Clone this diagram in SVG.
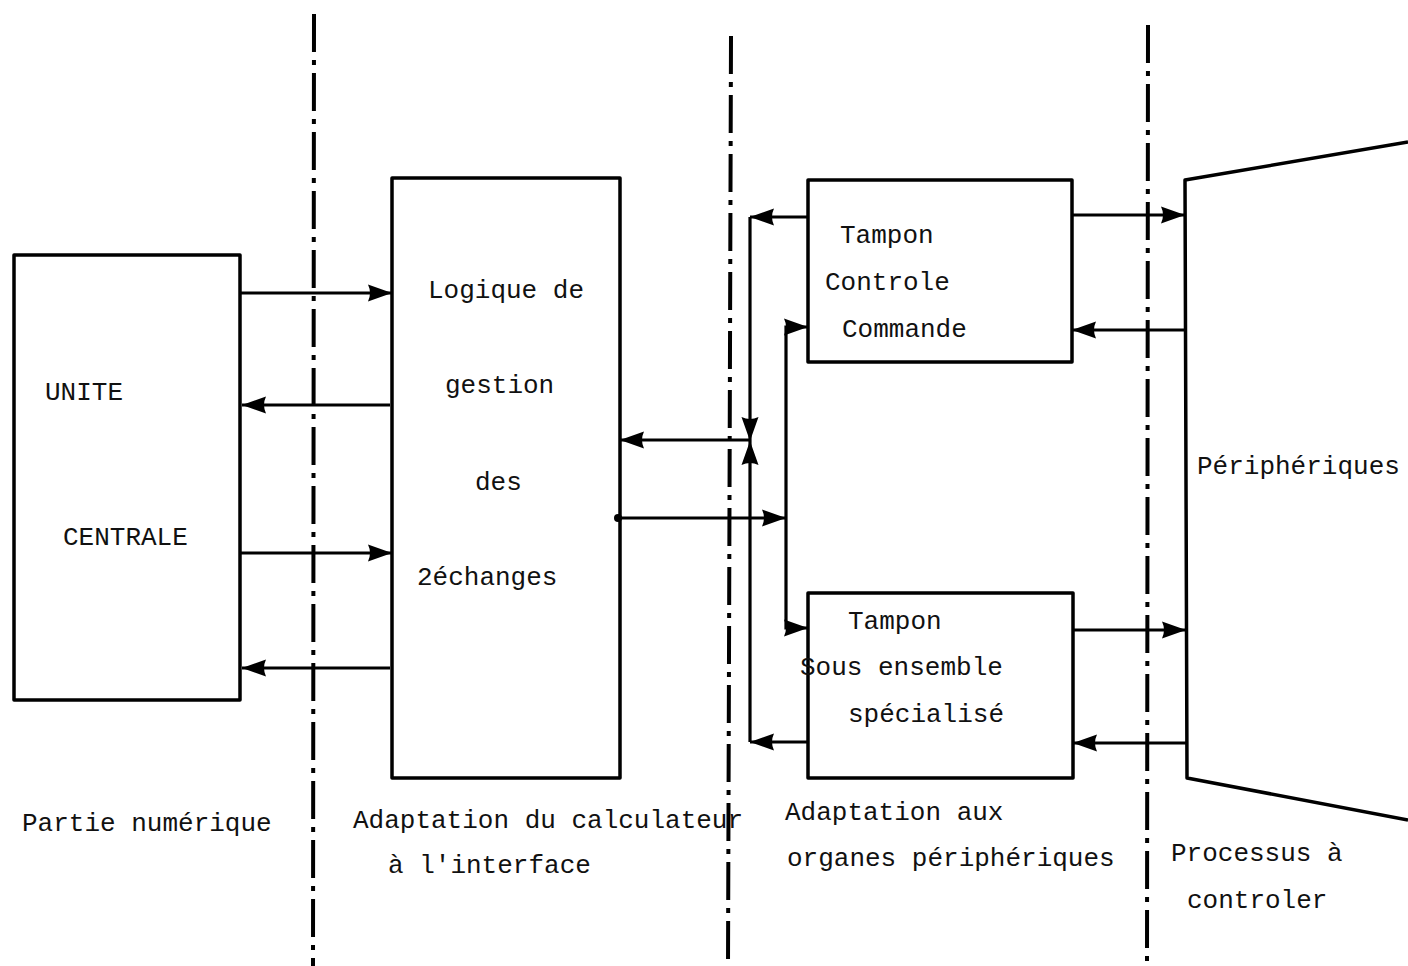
<svg xmlns="http://www.w3.org/2000/svg" width="1408" height="966" viewBox="0 0 1408 966">
<style>
.box{fill:none;stroke:#000;stroke-width:3.5;stroke-linejoin:round}
.sep{fill:none;stroke:#000;stroke-width:4;stroke-dasharray:38 8 5 8}
.a{fill:none;stroke:#000;stroke-width:3.2;marker-end:url(#ah)}
text{font-family:"Liberation Mono","DejaVu Sans Mono",monospace;font-size:26px;fill:#111}
</style>
<defs>
<marker id="ah" markerUnits="userSpaceOnUse" markerWidth="26" markerHeight="20" viewBox="0 0 26 20" refX="24" refY="10" orient="auto">
<path d="M0,1.5 L24,10 L0,18.5 Q4,10 0,1.5Z" fill="#000"/>
</marker>
</defs>
<rect width="1408" height="966" fill="#fff"/>
<g id="separators">
<line class="sep" x1="314" y1="14" x2="313" y2="966"/>
<line class="sep" x1="731" y1="36" x2="728" y2="966"/>
<line class="sep" x1="1148" y1="25" x2="1147" y2="966"/>
</g>
<g id="unite-centrale">
<rect class="box" x="14" y="255" width="226" height="445"/>
<text x="45" y="400">UNITE</text>
<text x="63" y="545">CENTRALE</text>
</g>
<g id="logique">
<rect class="box" x="392" y="178" width="228" height="600"/>
<text x="428" y="298">Logique de</text>
<text x="445" y="393">gestion</text>
<text x="475" y="490">des</text>
<text x="417" y="585">2échanges</text>
</g>
<g id="tampon-cc">
<rect class="box" x="808" y="180" width="264" height="182"/>
<text x="840" y="243">Tampon</text>
<text x="825" y="290">Controle</text>
<text x="842" y="337">Commande</text>
</g>
<g id="tampon-ses">
<rect class="box" x="808" y="593" width="265" height="185"/>
<text x="848" y="629">Tampon</text>
<text x="800" y="675">Sous ensemble</text>
<text x="848" y="722">spécialisé</text>
</g>
<g id="peripheriques">
<path class="box" d="M1408,142 L1185,180 L1187,778 L1408,820"/>
<text x="1197" y="474">Périphériques</text>
</g>
<g id="connectors">
<path class="a" d="M240,293 H392"/>
<path class="a" d="M390,405 H242"/>
<path class="a" d="M240,553 H392"/>
<path class="a" d="M390,668 H242"/>
<path class="a" d="M808,217 H750"/>
<path class="a" d="M750,217 V441"/>
<path class="a" d="M808,742 H750"/>
<path class="a" d="M750,742 V441"/>
<path class="a" d="M750,440 H620"/>
<path class="a" d="M618,518 H786"/>
<circle cx="618" cy="518" r="4" fill="#000"/>
<path class="a" d="M786,518 V327 H808"/>
<path class="a" d="M786,518 V628 H808"/>
<path class="a" d="M1072,215 H1185"/>
<path class="a" d="M1185,330 H1072"/>
<path class="a" d="M1073,630 H1186"/>
<path class="a" d="M1186,743 H1073"/>
</g>
<g id="labels">
<text x="22" y="831">Partie numérique</text>
<text x="353" y="828">Adaptation du calculateur</text>
<text x="388" y="873">à l'interface</text>
<text x="785" y="820">Adaptation aux</text>
<text x="787" y="866">organes périphériques</text>
<text x="1171" y="861">Processus à</text>
<text x="1187" y="908">controler</text>
</g>
</svg>
